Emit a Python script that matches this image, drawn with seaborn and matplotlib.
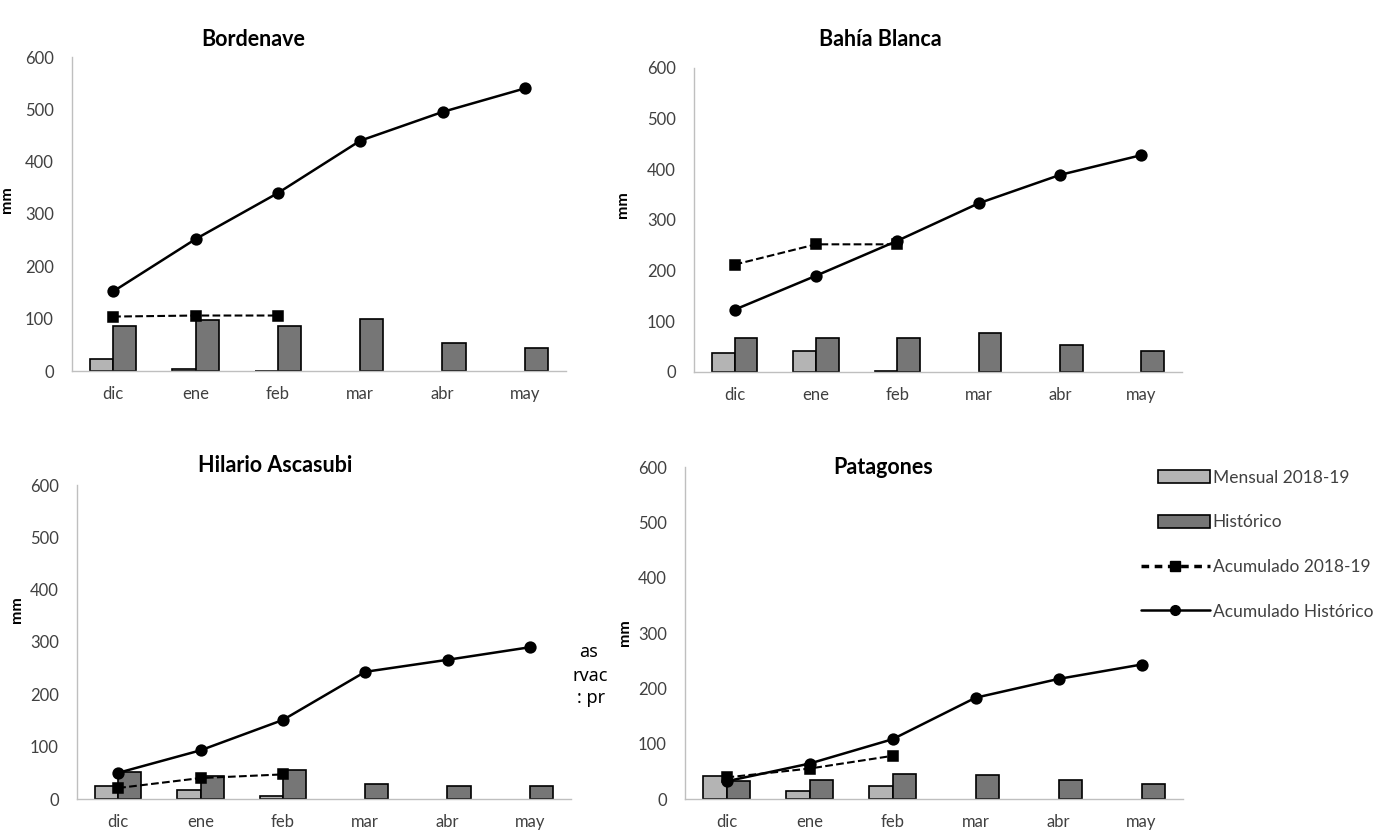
import pandas as pd
import matplotlib.pyplot as plt
import seaborn as sns
from matplotlib.patches import Patch, Rectangle
from matplotlib.lines import Line2D
from matplotlib.legend_handler import HandlerPatch

meses = ["dic", "ene", "feb", "mar", "abr", "may"]
estaciones = ["Bordenave", "Bahía Blanca", "Hilario Ascasubi", "Patagones"]

# lluvia mensual 2018-19 (solo dic-feb)
mensual = {
    "Bordenave": [22, 4, 0],
    "Bahía Blanca": [37, 42, 2],
    "Hilario Ascasubi": [24, 17, 6],
    "Patagones": [42, 15, 24],
}
# promedio histórico mensual
historico = {
    "Bordenave": [86, 97, 86, 99, 54, 44],
    "Bahía Blanca": [67, 67, 67, 76, 54, 42],
    "Hilario Ascasubi": [51, 43, 56, 29, 24, 24],
    "Patagones": [33, 34, 45, 43, 34, 28],
}
# acumulados
acum_1819 = {
    "Bordenave": [104, 106, 106],
    "Bahía Blanca": [212, 252, 252],
    "Hilario Ascasubi": [21, 40, 47],
    "Patagones": [39, 55, 78],
}
acum_hist = {
    "Bordenave": [152, 252, 340, 440, 495, 540],
    "Bahía Blanca": [123, 190, 259, 333, 389, 428],
    "Hilario Ascasubi": [50, 93, 151, 243, 266, 290],
    "Patagones": [32, 64, 108, 183, 217, 243],
}

c_mensual = "#b4b4b4"
c_hist = "#767676"
gris = "#404040"

sns.set_style("white")
plt.rcParams["font.family"] = ["Lato", "DejaVu Sans"]

fig = plt.figure(figsize=(14, 8.33), dpi=100)
W, H = 1400, 833

# cada panel en pixeles: izq, der, y del 0, y del 600,
# titulo (x, y) y etiqueta mm (x, y)
paneles = {
    "Bordenave": ((72, 566, 371, 57), (253, 40), (14, 200)),
    "Bahía Blanca": ((694, 1182, 372, 68), (880, 40), (630, 205)),
    "Hilario Ascasubi": ((77, 571, 799, 485), (275, 465), (24, 610)),
    "Patagones": ((685, 1183, 799, 467), (883, 467), (632, 633)),
}

for est in estaciones:
    (x0, x1, y0, y1), (tx, ty), (mx, my) = paneles[est]
    ax = fig.add_axes([x0 / W, (H - y0) / H, (x1 - x0) / W, (y0 - y1) / H])

    filas = []
    for m, v in zip(meses, mensual[est]):
        filas.append({"mes": m, "serie": "Mensual 2018-19", "mm": v})
    for m, v in zip(meses, historico[est]):
        filas.append({"mes": m, "serie": "Histórico", "mm": v})
    df = pd.DataFrame(filas)

    sns.barplot(data=df, x="mes", y="mm", hue="serie", order=meses,
                hue_order=["Mensual 2018-19", "Histórico"],
                palette=[c_mensual, c_hist], width=0.56, gap=0,
                edgecolor="black", linewidth=1.2, legend=False, ax=ax)

    sns.pointplot(x=meses, y=acum_hist[est], order=meses, color="black",
                  markers="o", linestyles="-", errorbar=None,
                  markersize=7.5, linewidth=1.8, ax=ax)
    sns.pointplot(x=meses[:3], y=acum_1819[est], order=meses, color="black",
                  markers="s", linestyles="--", errorbar=None,
                  markersize=7.5, linewidth=1.5, ax=ax)

    ax.set_ylim(0, 600)
    ax.set_xlim(-0.5, 5.5)
    ax.set_yticks(range(0, 601, 100))
    ax.set_xlabel("")
    ax.set_ylabel("mm", fontsize=11.5, fontweight="bold", color="black")
    ax.yaxis.set_label_coords((mx - x0) / (x1 - x0), (y0 - my) / (y0 - y1))
    ax.set_title(est, fontsize=15.5, fontweight="bold", color="black",
                 x=(tx - x0) / (x1 - x0), y=(y0 - ty) / (y0 - y1),
                 va="center", pad=0)
    ax.set_xticks([i - 0.5 for i in range(7)], minor=True)
    ax.tick_params(axis="x", which="major", length=0, labelsize=12,
                   labelcolor=gris, pad=11)
    ax.tick_params(axis="x", which="minor", length=4, color="#bfbfbf",
                   direction="out")
    ax.tick_params(axis="y", length=4, color="#bfbfbf", labelsize=12,
                   labelcolor=gris, direction="out", pad=9)
    sns.despine(ax=ax)
    for s in ["left", "bottom"]:
        ax.spines[s].set_color("#bfbfbf")
        ax.spines[s].set_linewidth(1)

# restos de texto de fondo
for txt, xx, yy in [("as", 579, 652), ("rvac", 572, 676), (": pr", 577, 698)]:
    fig.text(xx / W, 1 - yy / H, txt, fontsize=13, color="black",
             va="center", ha="left", family=["Noto Sans", "DejaVu Sans"])


def barra_corta(legend, orig_handle, xdescent, ydescent, width, height, fontsize):
    # rectangulo mas corto que las lineas, alineado a la derecha
    return Rectangle((-xdescent + width * 0.25, -ydescent), width * 0.75, height)


handles = [
    Patch(facecolor=c_mensual, edgecolor="black", linewidth=1.2),
    Patch(facecolor=c_hist, edgecolor="black", linewidth=1.2),
    Line2D([], [], color="black", linestyle=(0, (2.2, 1.6)), marker="s",
           markersize=7, linewidth=2.5),
    Line2D([], [], color="black", linestyle="-", marker="o", markersize=7,
           linewidth=1.8),
]
etiquetas = ["Mensual 2018-19", "Histórico", "Acumulado 2018-19",
             "Acumulado Histórico"]
leg = fig.legend(handles, etiquetas, loc="upper left",
                 bbox_to_anchor=(1125 / W, 1 - 454 / H), frameon=False,
                 fontsize=12.5, labelspacing=1.65, handlelength=4.0,
                 handletextpad=0.15, handleheight=0.75,
                 handler_map={Patch: HandlerPatch(patch_func=barra_corta)})
for t in leg.get_texts():
    t.set_color(gris)

fig.savefig("out.png", dpi=100)
